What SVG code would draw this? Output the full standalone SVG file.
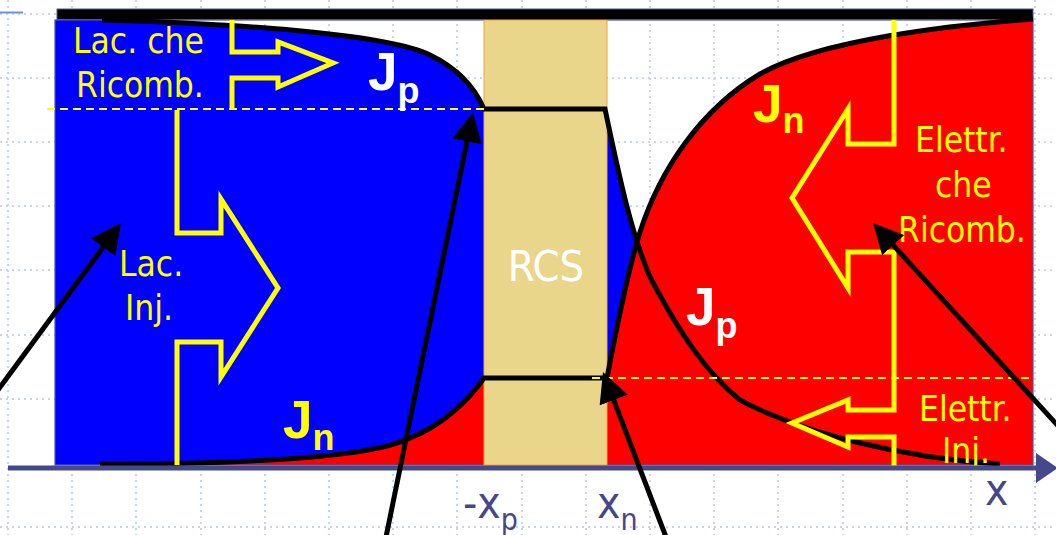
<svg xmlns="http://www.w3.org/2000/svg" width="1056" height="535" viewBox="0 0 1056 535">
<style>
.grid{stroke:#C6D3F2;stroke-width:2;stroke-dasharray:2 4;fill:none}
.curve{fill:none;stroke:#000;stroke-width:5}
.yarrow{fill:none;stroke:#FFFF00;stroke-width:5;stroke-linejoin:miter;stroke-miterlimit:10}
.ydash{stroke:#FFFF00;stroke-width:2;stroke-dasharray:8 5}
.ptr{stroke:#000;stroke-width:5;fill:none;marker-end:url(#head)}
.lbl{font-family:"DejaVu Sans Condensed","DejaVu Sans","Liberation Sans",sans-serif;font-size:35px;fill:#FFFF00}
.J{font-family:"Liberation Sans",Arial,sans-serif;font-weight:bold;font-size:53px}
.sub{font-size:36px}
.ax{font-family:"DejaVu Sans Condensed","DejaVu Sans",sans-serif;fill:#44478B;font-size:44px}
</style>
<defs>
<marker id="head" viewBox="0 0 30 30" refX="10" refY="15" markerWidth="30" markerHeight="30" markerUnits="userSpaceOnUse" orient="auto">
<path d="M0,0 L30,15 L0,30 Z" fill="#000"/>
</marker>
</defs>
<rect width="1056" height="535" fill="#fff"/>
<g id="grid">
<line class="grid" x1="0" y1="14" x2="1056" y2="14"/>
<line class="grid" x1="0" y1="78" x2="1056" y2="78"/>
<line class="grid" x1="0" y1="142" x2="1056" y2="142"/>
<line class="grid" x1="0" y1="206" x2="1056" y2="206"/>
<line class="grid" x1="0" y1="270" x2="1056" y2="270"/>
<line class="grid" x1="0" y1="335" x2="1056" y2="335"/>
<line class="grid" x1="0" y1="399" x2="1056" y2="399"/>
<line class="grid" x1="0" y1="527" x2="1056" y2="527"/>
<line class="grid" x1="8" y1="0" x2="8" y2="535"/>
<line class="grid" x1="72" y1="0" x2="72" y2="535"/>
<line class="grid" x1="136" y1="0" x2="136" y2="535"/>
<line class="grid" x1="201" y1="0" x2="201" y2="535"/>
<line class="grid" x1="265" y1="0" x2="265" y2="535"/>
<line class="grid" x1="329" y1="0" x2="329" y2="535"/>
<line class="grid" x1="393" y1="0" x2="393" y2="535"/>
<line class="grid" x1="457" y1="0" x2="457" y2="535"/>
<line class="grid" x1="522" y1="0" x2="522" y2="535"/>
<line class="grid" x1="586" y1="0" x2="586" y2="535"/>
<line class="grid" x1="650" y1="0" x2="650" y2="535"/>
<line class="grid" x1="714" y1="0" x2="714" y2="535"/>
<line class="grid" x1="778" y1="0" x2="778" y2="535"/>
<line class="grid" x1="843" y1="0" x2="843" y2="535"/>
<line class="grid" x1="907" y1="0" x2="907" y2="535"/>
<line class="grid" x1="971" y1="0" x2="971" y2="535"/>
<line class="grid" x1="1035" y1="0" x2="1035" y2="535"/>
<line x1="0" y1="12.5" x2="23" y2="12.5" stroke="#6E8FDF" stroke-width="2"/>
</g>
<g id="regions">
<path d="M55,20 L102,20 C250,24 390,35 430,55 C465,72 478,95 484,109 L484,465 L55,465 Z" fill="#0000FF"/>
<path d="M100,464 C250,464 370,458 410,438 C445,424 470,398 484,378 L484,465 L100,465 Z" fill="#FF0000"/>
<path d="M605,109 C618,170 630,230 650,277 C678,330 705,372 740,400 C800,432 900,458 1000,464 L1000,465 L607,465 L607,109 Z" fill="#0000FF"/>
<path d="M607,378 C618,320 628,270 640,232 C660,170 700,110 760,74 C820,40 950,25 1033,19 L1033,465 L607,465 Z" fill="#FF0000"/>
<rect x="55" y="20" width="978" height="445" fill="none" stroke="#4F5494" stroke-width="1.2"/>
</g>
<g id="RCS">
<rect x="484" y="20" width="123" height="445" fill="#EAD68A" stroke="#F2A23A" stroke-width="1"/>
<text x="546" y="281" text-anchor="middle" font-family="'DejaVu Sans Condensed','DejaVu Sans',sans-serif" font-size="43" fill="#FFFFFF">RCS</text>
</g>
<g id="topbar">
<rect x="57" y="9" width="976" height="10.5" fill="#000" stroke="#4F5494" stroke-width="1"/>
</g>
<g id="curves">
<path class="curve" d="M102,20 C250,24 390,35 430,55 C465,72 478,95 484,109 L605,109 C618,170 630,230 650,277 C678,330 705,372 740,400 C800,432 900,458 1000,464"/>
<path class="curve" d="M100,464 C250,464 370,458 410,438 C445,424 470,398 484,378 L607,378 C618,320 628,270 640,232 C660,170 700,110 760,74 C820,40 950,25 1033,19"/>
</g>
<g id="dashes">
<line class="ydash" x1="47" y1="109" x2="484" y2="109"/>
<line class="ydash" x1="592" y1="378" x2="1033" y2="378"/>
</g>
<g id="yellow-arrows">
<polyline class="yarrow" points="232,20 232,52 278,52 278,42 333,63 278,87 278,78 232,78 232,110"/>
<polyline class="yarrow" points="177,110 177,233 221,233 221,199 278,288 221,377 221,342 177,342 177,465"/>
<polyline class="yarrow" points="894,20 894,144 848,144 848,109 792,198 848,288 848,252 894,252 894,410 848,410 848,400 792,423 848,447 848,437 894,437 894,467"/>
</g>
<g id="labels">
<text class="lbl" x="73" y="53">Lac. che</text>
<text class="lbl" x="76" y="97">Ricomb.</text>
<text class="lbl" x="119" y="276">Lac.</text>
<text class="lbl" x="125" y="320">Inj.</text>
<text class="lbl" x="915" y="152">Elettr.</text>
<text class="lbl" x="935" y="197">che</text>
<text class="lbl" x="898" y="242">Ricomb.</text>
<text class="lbl" x="919" y="421">Elettr.</text>
<text class="lbl" x="942" y="463">Inj.</text>
<text class="J" x="368" y="90" fill="#FFFFFF">J<tspan class="sub" dy="13">p</tspan></text>
<text class="J" x="283" y="438" fill="#FFFF00">J<tspan class="sub" dy="12">n</tspan></text>
<text class="J" x="753" y="122" fill="#FFFF00">J<tspan class="sub" dy="11">n</tspan></text>
<text class="J" x="686" y="325" fill="#FFFFFF">J<tspan class="sub" dy="13">p</tspan></text>
</g>
<g id="axis">
<line x1="8" y1="468" x2="1040" y2="468" stroke="#45488C" stroke-width="5"/>
<path d="M1036,453 L1058,468 L1036,483 Z" fill="#45488C"/>
<text class="ax" x="463" y="518">-x<tspan font-size="30" dy="12">p</tspan></text>
<text class="ax" x="597" y="518">x<tspan font-size="30" dy="12">n</tspan></text>
<text class="ax" x="985" y="505" font-size="42">x</text>
</g>
<g id="connectors">
<line class="ptr" x1="-5" y1="394" x2="109.1" y2="239.1"/>
<line class="ptr" x1="386" y1="537" x2="469" y2="131.6"/>
<line class="ptr" x1="666" y1="537" x2="610.1" y2="390.7"/>
<line class="ptr" x1="1060" y1="428" x2="886.5" y2="237.8"/>
</g>
</svg>
